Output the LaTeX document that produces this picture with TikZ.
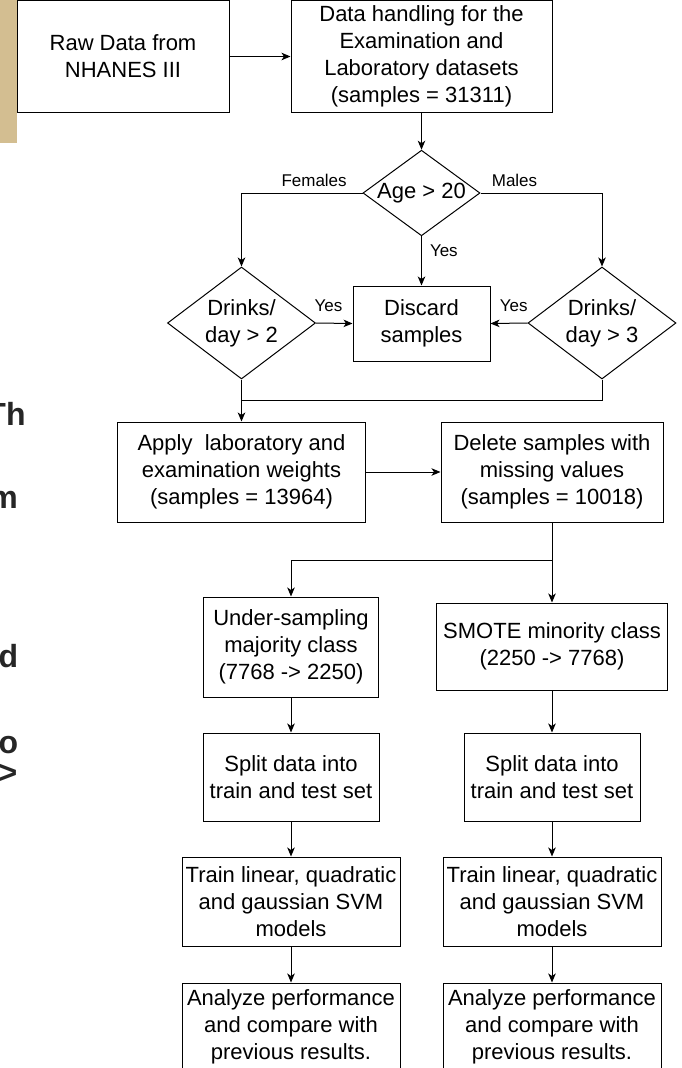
\documentclass[tikz,border=0pt]{standalone}
\usepackage{fontspec}
\setmainfont{Liberation Sans}
\usepackage{tikz}
\usetikzlibrary{shapes.geometric,arrows.meta}
\definecolor{strip}{RGB}{211,190,145}

\begin{document}
\begin{tikzpicture}[x=1pt,y=-1pt,line width=1pt,
box/.style n args={2}{draw,rectangle,inner sep=0pt,align=center,font=\fontsize{22}{27}\selectfont,minimum width=#1,minimum height=#2},
dec/.style n args={2}{draw,diamond,aspect=1.35,inner sep=0pt,align=center,font=\fontsize{22}{27}\selectfont,minimum width=#1,minimum height=#2},
lbl/.style={font=\fontsize{17}{20}\selectfont,inner sep=2pt},
arr/.style={-{Stealth[length=9pt,width=7.5pt,inset=2.5pt]}},
stray/.style={font=\fontsize{32}{32}\bfseries\selectfont,text=black!85,anchor=base west,inner sep=0pt}]
\useasboundingbox (0,0) rectangle (681,1068);
\clip (0,0) rectangle (681,1068);
\fill[strip] (0,0) rectangle (16.5,143);
\foreach \t/\x/\y [count=\i] in {Th/-14/425,m/-11/508,d/-2/667,o/-2/753,>/-2/783}
   \node[stray] (stray\i) at (\x,\y) {\t};
\node[box={212}{112}] (raw) at (123,56.5) {Raw Data from\\NHANES III};
\node[box={261}{112}] (handle) at (421.5,56.5) {Data handling for the\\Examination and\\Laboratory datasets\\(samples = 31311)};
\node[dec={117}{85}] (age) at (421.5,193) {Age > 20};
\node[dec={148}{112}] (dl) at (241.5,323) {Drinks/\\day > 2};
\node[dec={148}{112}] (dr) at (602,323) {Drinks/\\day > 3};
\node[box={137}{75}] (discard) at (421.5,323.5) {Discard\\samples};
\node[box={248}{100}] (apply) at (241.5,472) {Apply\ \ laboratory and\\examination weights\\(samples = 13964)};
\node[box={222}{100}] (delete) at (552,472) {Delete samples with\\missing values\\(samples = 10018)};
\node[box={175}{100}] (under) at (291,647) {Under-sampling\\majority class\\(7768 -> 2250)};
\node[box={231}{87}] (smote) at (552,646.5) {SMOTE minority class\\(2250 -> 7768)};
\foreach \c/\x in {L/291,R/552} {
   \node[box={176}{88}] (split\c) at (\x,777) {Split data into\\train and test set};
   \node[box={218}{89}] (train\c) at (\x,901.5) {Train linear, quadratic\\and gaussian SVM\\models};
   \node[box={218}{88}] (ana\c) at (\x,1027) {Analyze performance\\and compare with\\previous results.};
}
\coordinate (mrg) at (241.5,400);
\coordinate (fork) at (552,560);
\draw[arr] (raw.east) -- (handle.west);
\draw[arr] (handle.south) -- (age.north);
\draw[arr] (age.west) -| node[lbl,pos=0.2,above=4pt]{Females} (dl.north);
\draw[arr] (age.east) -| node[lbl,pos=0.14,above=4pt]{Males} (dr.north);
\draw[arr] (age.south) -- node[lbl,pos=0.29,right=6pt]{Yes} (discard.north);
\draw[arr] (dl.east) -- node[lbl,pos=0.34,above=9pt]{Yes} (discard.west);
\draw[arr] (dr.west) -- node[lbl,pos=0.37,above=9pt]{Yes} (discard.east);
\draw[arr] (dl.south) -- (apply.north);
\draw (dr.south) |- (mrg);
\draw[arr] (apply.east) -- (delete.west);
\draw (delete.south) -- (fork);
\draw[arr] (fork) -| (under.north);
\draw[arr] (fork) -- (smote.north);
\foreach \a/\b in {under/splitL,smote/splitR,splitL/trainL,splitR/trainR,trainL/anaL,trainR/anaR}
   \draw[arr] (\a.south) -- (\b.north);
\end{tikzpicture}
\end{document}
